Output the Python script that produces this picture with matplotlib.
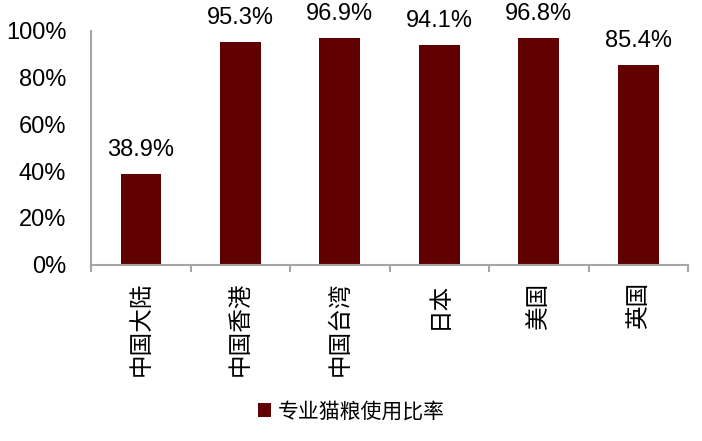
import numpy as np
import matplotlib.pyplot as plt
from matplotlib.ticker import FuncFormatter, FixedLocator

plt.rcParams['font.family'] = ['Liberation Sans', 'Noto Sans CJK SC']

regions = ['中国大陆', '中国香港', '中国台湾', '日本', '美国', '英国']
ratio = [38.9, 95.3, 96.9, 94.1, 96.8, 85.4]
series_name = '专业猫粮使用比率'

fig = plt.figure(figsize=(7.02, 4.41), dpi=100)
ax = fig.add_axes([0.13, 0.40, 0.85, 0.53])

x = np.arange(len(regions))
ax.bar(x, ratio, width=0.41, color='#600000', label=series_name)
for xi, v in zip(x, ratio):
    ax.text(xi, v + 5.5, f'{v:.1f}%', ha='center', va='bottom', fontsize=17)

ax.set_xlim(-0.5, len(regions) - 0.5)
ax.set_ylim(0, 100)
ax.set_yticks(range(0, 101, 20))
ax.yaxis.set_major_formatter(FuncFormatter(lambda v, p: f'{v:.0f}%'))
ax.tick_params(axis='y', length=0, labelsize=17, pad=18)

ax.set_xticks(x)
ax.set_xticklabels(regions, rotation=90, fontsize=17, family=['Noto Sans CJK SC'])
ax.tick_params(axis='x', which='major', length=0, pad=12)
ax.xaxis.set_minor_locator(FixedLocator(np.arange(-0.5, len(regions), 1)))
ax.tick_params(axis='x', which='minor', length=5, color='#a6a6a6', width=1.5)

for s in ['top', 'right']:
    ax.spines[s].set_visible(False)
for s in ['left', 'bottom']:
    ax.spines[s].set_color('#a6a6a6')
    ax.spines[s].set_linewidth(1.5)

fig.legend(loc='lower center', bbox_to_anchor=(0.5, 0.0), frameon=False,
           handlelength=0.65, handleheight=0.65, handletextpad=0.3,
           prop={'family': 'Noto Sans CJK SC', 'size': 15})

fig.savefig('out.png', dpi=100)
